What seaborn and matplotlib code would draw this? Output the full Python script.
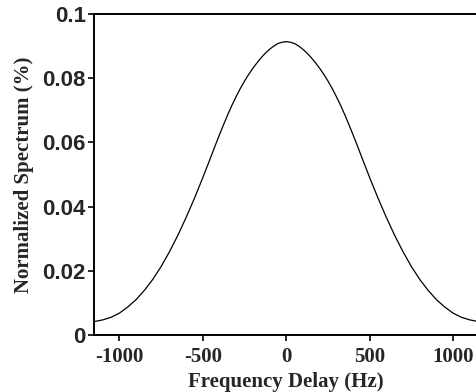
import numpy as np
import pandas as pd
import seaborn as sns
import matplotlib.pyplot as plt

# values (Hz, normalized spectrum)
delay_hz = [-1150, -1100, -1050, -1000, -950, -900, -850, -800, -750, -700,
            -650, -600, -550, -500, -450, -425, -400, -375, -350, -325,
            -300, -275, -250, -225, -200, -175, -150, -125, -100, -75,
            -50, -25, 0, 25, 50, 75, 100, 125, 150, 175,
            200, 225, 250, 275, 300, 325, 350, 375, 400, 425,
            450, 500, 550, 600, 650, 700, 750, 800, 850, 900,
            950, 1000, 1050, 1100, 1150]
spectrum = [0.0042, 0.0047, 0.0055, 0.0068, 0.0087, 0.0110, 0.0139, 0.0173, 0.0213, 0.0259,
            0.0310, 0.0366, 0.0426, 0.0490, 0.0557, 0.0591, 0.0624, 0.0656, 0.0687, 0.0716,
            0.0743, 0.0768, 0.0791, 0.0812, 0.0831, 0.0848, 0.0864, 0.0878, 0.0890, 0.0900,
            0.0908, 0.0912, 0.0914, 0.0912, 0.0908, 0.0900, 0.0890, 0.0878, 0.0864, 0.0848,
            0.0831, 0.0812, 0.0791, 0.0768, 0.0743, 0.0716, 0.0687, 0.0656, 0.0624, 0.0591,
            0.0557, 0.0490, 0.0426, 0.0366, 0.0310, 0.0259, 0.0213, 0.0173, 0.0139, 0.0110,
            0.0087, 0.0068, 0.0055, 0.0047, 0.0042]

x_ticks = [-1000, -500, 0, 500, 1000]
y_ticks = [0, 0.02, 0.04, 0.06, 0.08, 0.1]
y_tick_labels = ['0', '0.02', '0.04', '0.06', '0.08', '0.1']

df = pd.DataFrame({'delay': delay_hz, 'spectrum': spectrum})

sns.set_style('ticks')
fig = plt.figure(figsize=(4.76, 3.92), dpi=100)
ax = fig.add_axes([94.3 / 476, 57 / 392, (478.2 - 94.3) / 476, 321 / 392])

sns.lineplot(data=df, x='delay', y='spectrum', ax=ax, color='black', linewidth=0.9)

ax.set_xlim(-1150, 1150)
ax.set_ylim(0, 0.1)
ax.set_xticks(x_ticks)
ax.set_xticklabels([str(t) for t in x_ticks], family='Liberation Serif',
                   fontweight='bold', fontsize=15)
ax.set_yticks(y_ticks)
ax.set_yticklabels(y_tick_labels, family='Liberation Sans',
                   fontweight='bold', fontsize=16)
ax.tick_params(axis='both', direction='out', length=4, width=1.2,
               color='black')
ax.tick_params(axis='x', pad=5)
ax.tick_params(axis='y', pad=2)

for s in ax.spines.values():
    s.set_color('black')
    s.set_linewidth(1.4)
    s.set_visible(True)

ax.set_xlabel('Frequency Delay (Hz)', family='Liberation Serif',
              fontweight='bold', fontsize=15, labelpad=3)
ax.set_ylabel('Normalized Spectrum (%)', family='Liberation Serif',
              fontweight='bold', fontsize=15, labelpad=6)

fig.savefig('out.png', dpi=100)
